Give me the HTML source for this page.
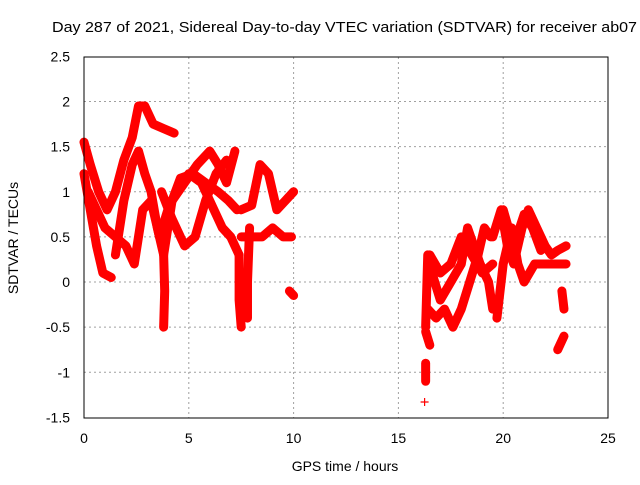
<!DOCTYPE html>
<html><head><meta charset="utf-8"><style>
body{margin:0;background:#fff}
svg text{font-family:"Liberation Sans",sans-serif;font-size:14px;fill:#000}
</style></head><body>
<svg id="chart" width="640" height="480">
<text x="52" y="32" textLength="585" lengthAdjust="spacingAndGlyphs" style="font-size:15px">Day 287 of 2021, Sidereal Day-to-day VTEC variation (SDTVAR) for receiver ab07</text>
<text x="345" y="471" text-anchor="middle">GPS time / hours</text>
<text transform="translate(18,238) rotate(-90)" text-anchor="middle">SDTVAR / TECUs</text>
<g id="grid"></g><g id="ticks"></g><g id="marks"></g>
<rect x="84" y="57" width="524" height="361" fill="none" stroke="#000" stroke-width="1"/>
</svg>
<script>
const xTicks=[0,5,10,15,20,25];
const yTicks=[-1.5,-1,-0.5,0,0.5,1,1.5,2,2.5];
const traces=[
[[0,1.55],[0.3,1.3],[0.7,1.0],[1.1,0.8],[1.5,1.0],[1.9,1.35],[2.3,1.6],[2.6,1.95],[2.9,1.95],[3.3,1.75],[3.8,1.7],[4.3,1.65]],
[[0,1.2],[0.3,0.8],[0.6,0.4],[0.9,0.1],[1.3,0.05]],
[[1.5,0.3],[1.9,0.9],[2.3,1.3],[2.6,1.45],[2.9,1.2],[3.2,1.0],[3.5,0.6],[3.8,0.3],[4.2,0.9],[4.6,1.15],[5.2,1.2],[5.8,1.1],[6.4,1.0],[6.9,0.9],[7.3,0.8]],
[[0.2,1.0],[0.6,0.8],[1.0,0.6],[1.5,0.5],[2.0,0.4],[2.4,0.2],[2.8,0.8],[3.2,0.9],[3.6,0.5],[4.0,0.8],[4.4,1.0],[5.0,1.2],[5.6,1.1],[6.0,0.9],[6.6,0.6],[7.0,0.5],[7.4,0.3]],
[[4.2,0.9],[4.8,1.1],[5.4,1.3],[6.0,1.45],[6.4,1.3],[6.8,1.1],[7.2,1.45]],
[[3.7,1.0],[4.2,0.7],[4.8,0.4],[5.3,0.5],[5.8,0.9],[6.3,1.2],[6.8,1.35]],
[[7.5,0.8],[8.0,0.85],[8.4,1.3],[8.8,1.2],[9.2,0.8],[9.6,0.9],[10,1.0]],
[[7.5,0.5],[8.0,0.5],[8.5,0.5],[9.0,0.6],[9.5,0.5],[9.9,0.5]],
[[3.8,0.3],[3.85,-0.1],[3.8,-0.5]],
[[7.4,0.3],[7.4,-0.2],[7.5,-0.5]],
[[7.9,0.6],[7.8,0.0],[7.8,-0.4]],
[[9.8,-0.1],[10,-0.15]],
[[16.3,-0.5],[16.4,0.3],[16.6,0.1],[17,-0.2],[17.5,0],[18,0.2],[18.3,0.6],[18.6,0.4],[18.9,0.2],[19.3,0],[19.5,-0.3]],
[[16.4,-0.3],[16.8,-0.4],[17.2,-0.3],[17.6,-0.5],[18,-0.3],[18.4,0],[18.8,0.3],[19.1,0.6],[19.4,0.5]],
[[16.5,0.3],[17,0.1],[17.5,0.2],[18,0.5],[18.5,0.3],[19,0.1],[19.5,0.2]],
[[19.5,0.5],[19.9,0.8],[20.2,0.4],[20.5,0.2],[20.9,0.6],[21.2,0.8],[21.6,0.6],[22,0.4],[22.3,0.3],[22.6,0.35],[23,0.4]],
[[19.7,-0.4],[20,0.2],[20.4,0.6],[20.7,0.2],[21,0],[21.5,0.2],[22,0.2],[22.5,0.2],[23,0.2]],
[[20,0.8],[20.5,0.4],[21,0.75],[21.4,0.6],[21.8,0.35]],
[[22.6,-0.75],[22.9,-0.6]],
[[22.8,-0.1],[22.9,-0.3]],
[[16.3,-0.55],[16.5,-0.7]],
[[16.3,-0.9],[16.3,-1.1]],
[[16.25,-1.33]]
];
const NS="http://www.w3.org/2000/svg";
const X=t=>84+t*524/25, Y=v=>282-v*361/4;
const grid=document.getElementById('grid'),ticks=document.getElementById('ticks'),marks=document.getElementById('marks');
function mk(tag,attrs,parent){const e=document.createElementNS(NS,tag);for(const k in attrs)e.setAttribute(k,attrs[k]);parent.appendChild(e);return e;}
xTicks.forEach(t=>{
  if(t>0&&t<25){const g=mk('line',{x1:X(t),x2:X(t),y1:57,y2:418,stroke:'#a0a0a0','stroke-dasharray':'2,3'},grid);
  
  }
  const l=mk('text',{x:X(t),y:443,'text-anchor':'middle'},ticks);l.textContent=t;
  
  
});
yTicks.forEach(v=>{
  if(v>-1.5&&v<2.5){const g=mk('line',{x1:84,x2:608,y1:Y(v),y2:Y(v),stroke:'#a0a0a0','stroke-dasharray':'2,3'},grid);
  
  }
  const l=mk('text',{x:70,y:Y(v)+5,'text-anchor':'end'},ticks);l.textContent=v;
  
  
});
traces.forEach(tr=>{
  const pl=mk('polyline',{points:tr.map(p=>X(p[0])+','+Y(p[1])).join(' '),fill:'none',stroke:'#f00','stroke-width':9,'stroke-linejoin':'round','stroke-linecap':'round'},marks);
  
  
  tr.forEach(p=>{
    const x=X(p[0]),y=Y(p[1]);
    const m=mk('path',{d:`M${x-4},${y}H${x+4}M${x},${y-4}V${y+4}`,stroke:'#f00','stroke-width':1.2},marks);
    
    
  });
});
</script>
</body></html>
